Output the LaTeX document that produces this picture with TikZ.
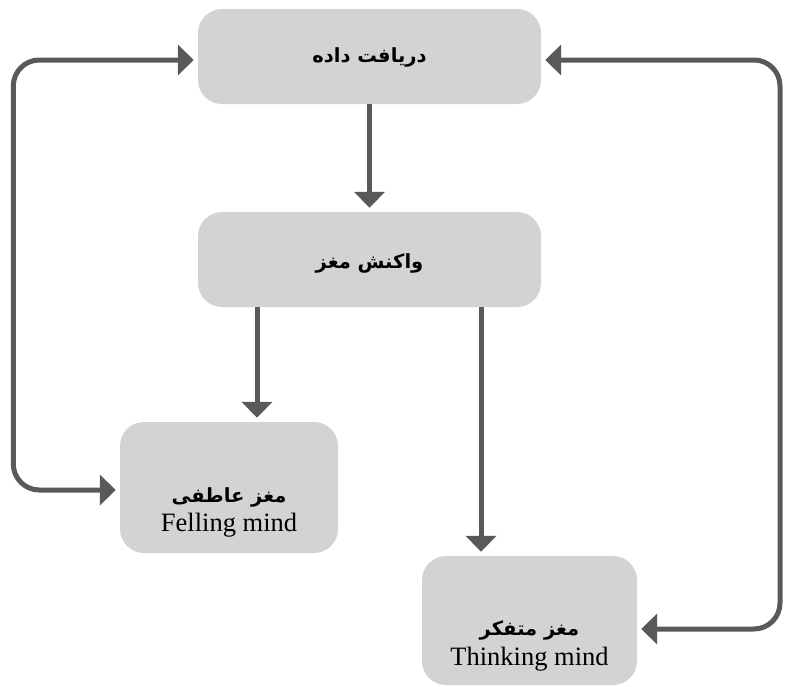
\documentclass[tikz,border=0pt]{standalone}
\usepackage{fontspec}
\setmainfont{Liberation Serif}
\newfontfamily\farsi[Script=Arabic]{DejaVu Sans}
\TeXXeTstate=1
\usetikzlibrary{arrows.meta}

\definecolor{boxgray}{HTML}{D1D3D4}
\definecolor{linegray}{HTML}{58595B}

\tikzset{
    box/.style={fill=boxgray, rounded corners=24pt, inner sep=0pt},
    fa/.style={font=\farsi\bfseries\fontsize{19.5}{23}\selectfont},
    en/.style={font=\fontsize{26.5}{30}\selectfont},
    link/.style={line width=5pt, draw=linegray, shorten >=4pt,
        -{Triangle[length=16pt,width=30pt]}},
    loop/.style={link, rounded corners=26pt, shorten <=4pt,
        {Triangle[length=16pt,width=30pt]}-{Triangle[length=16pt,width=30pt]}}
}

\begin{document}
\begin{tikzpicture}[x=1pt, y=-1pt]
    \useasboundingbox (0,0) rectangle (785,686);

    % Boxes
    \node[box, minimum width=343pt, minimum height=95pt] (get) at (369.5,56.5) {};
    \node[box, minimum width=343pt, minimum height=95pt] (react) at (369.5,259.5) {};
    \node[box, minimum width=218pt, minimum height=131pt] (felling) at (229,487.5) {};
    \node[box, minimum width=215pt, minimum height=129pt] (thinking) at (529.5,620.5) {};

    % Texts
    \node[fa] (gettxt) at ([yshift=-1pt]get.center) {\beginR دریافت داده\endR};
    \node[fa] (reacttxt) at ([yshift=-4pt]react.center) {\beginR واکنش مغز\endR};
    \node[fa] (fellingfa) at ([yshift=-10pt]felling.center) {\beginR مغز عاطفی\endR};
    \node[en] (fellingen) at ([yshift=-38pt]felling.center) {Felling mind};
    \node[fa] (thinkingfa) at ([yshift=-10pt]thinking.center) {\beginR مغز متفکر\endR};
    \node[en] (thinkingen) at ([yshift=-39pt]thinking.center) {Thinking mind};

    % Arrows
    \draw[link] (get) -- (react);
    \draw[link] (react.south -| 257,0) -- (felling.north -| 257,0);
    \draw[link] (react.south -| 481,0) -- (thinking.north -| 481,0);

    % Loops
    \draw[loop] ([yshift=-2.5pt]felling.west) -- ++(-106.5,0) |- ([yshift=-3.5pt]get.west);
    \draw[loop] ([yshift=-8.5pt]thinking.east) -- (780,629) |- ([yshift=-3.5pt]get.east);
\end{tikzpicture}
\end{document}
